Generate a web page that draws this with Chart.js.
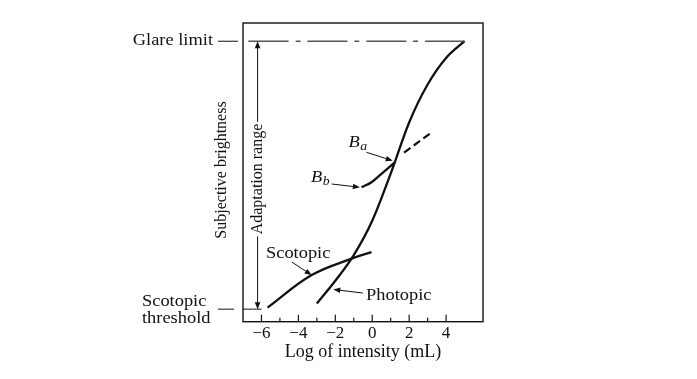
<!DOCTYPE html>
<html><head><meta charset="utf-8">
<script src="https://cdn.jsdelivr.net/npm/chart.js@4.4.1/dist/chart.umd.min.js"></script>
<style>html,body{margin:0;padding:0;background:#fff;}</style>
</head><body>
<canvas id="c" width="697" height="379"></canvas>
<script>
// ---- data (x = log of intensity, y = subjective brightness, arbitrary units 0..100) ----
const xTickValues = [-6, -4, -2, 0, 2, 4];
const xTickLabels = ['−6', '−4', '−2', '0', '2', '4'];
const minorTickValues = [-5, -3, -1, 1, 3];

const photopicX = [-3.0, -2.0, -1.0, 0.0, 1.0, 2.0, 3.0, 4.0, 5.0];
const photopicY = [6.1, 13.7, 22.3, 33.8, 49.6, 66.7, 79.4, 88.3, 93.9];

const scotopicX = [-5.67, -3.28, -1.12, -0.04];
const scotopicY = [4.7, 15.6, 21.1, 23.3];

const adaptedX = [-0.58, -0.04, 0.50, 1.22];
const adaptedY = [45.0, 46.7, 49.5, 53.3];

const extensionX = [1.72, 3.2];
const extensionY = [56.6, 63.3];

const glareLevel = 93.9;
const glareX = [-6.71, 5.0];
const thresholdLevel = 4.2;
const thresholdX = [-7, -6.0];
const adaptationX = -6.21;

// annotation arrows: [tailX, tailY, headX, headY]
const arrowBa = [-0.31, 56.7, 1.11, 53.9];
const arrowBb = [-2.2, 46.1, -0.67, 45.0];
const arrowScotopic = [-4.36, 20.0, -3.28, 15.6];
const arrowPhotopic = [-0.51, 9.6, -2.11, 10.8];

// annotation labels: [text, x, y]
const labelScotopic = ['Scotopic', -4.01, 22.9];
const labelPhotopic = ['Photopic', 1.44, 8.6];
const labelBa = ['B', 'a', -0.80, 59.9];
const labelBb = ['B', 'b', -2.83, 48.2];

const pts = (xs, ys) => xs.map((x, i) => ({x: x, y: ys[i]}));

const SERIF = '"Liberation Serif", "Times New Roman", serif';
const INK = '#111';

function arrow(ctx, x1, y1, x2, y2) {
  const a = Math.atan2(y2 - y1, x2 - x1);
  const L = 7, W = 2.8;
  ctx.beginPath(); ctx.moveTo(x1, y1);
  ctx.lineTo(x2 - Math.cos(a) * L * 0.8, y2 - Math.sin(a) * L * 0.8); ctx.stroke();
  ctx.beginPath();
  ctx.moveTo(x2, y2);
  ctx.lineTo(x2 - Math.cos(a) * L - Math.sin(a) * W, y2 - Math.sin(a) * L + Math.cos(a) * W);
  ctx.lineTo(x2 - Math.cos(a) * L + Math.sin(a) * W, y2 - Math.sin(a) * L - Math.cos(a) * W);
  ctx.closePath(); ctx.fill();
}
function sText(ctx, text, x, y, align, size, style) {
  ctx.save();
  ctx.translate(x, y); ctx.scale(1.15, 1);
  ctx.font = (style || '') + ' ' + size + 'px ' + SERIF;
  ctx.textAlign = align; ctx.textBaseline = 'middle';
  ctx.fillText(text, 0, 0);
  ctx.restore();
}
function subLabel(ctx, main, sub, cx, cy) {
  ctx.save();
  ctx.font = 'italic 16px ' + SERIF;
  const w1 = ctx.measureText(main).width * 1.15;
  ctx.font = 'italic 12px ' + SERIF;
  const w2 = ctx.measureText(sub).width * 1.15;
  const x0 = cx - (w1 + w2) / 2;
  ctx.restore();
  sText(ctx, main, x0, cy, 'left', 16, 'italic');
  sText(ctx, sub, x0 + w1 + 0.5, cy + 4, 'left', 12, 'italic');
}

const overlay = {
  id: 'overlay',
  afterDraw(chart) {
    const ctx = chart.ctx, a = chart.chartArea;
    const X = v => chart.scales.x.getPixelForValue(v);
    const Y = v => chart.scales.y.getPixelForValue(v);
    ctx.save();
    ctx.strokeStyle = INK; ctx.fillStyle = INK;
    // frame
    ctx.lineWidth = 1.4;
    ctx.strokeRect(a.left, a.top, a.right - a.left, a.bottom - a.top);
    // inward tick marks
    ctx.lineWidth = 1.2;
    xTickValues.forEach(v => { ctx.beginPath(); ctx.moveTo(X(v), a.bottom); ctx.lineTo(X(v), a.bottom - 7); ctx.stroke(); });
    minorTickValues.forEach(v => { ctx.beginPath(); ctx.moveTo(X(v), a.bottom); ctx.lineTo(X(v), a.bottom - 4); ctx.stroke(); });
    // annotation arrows
    ctx.lineWidth = 1;
    [arrowBa, arrowBb, arrowScotopic, arrowPhotopic].forEach(r => arrow(ctx, X(r[0]), Y(r[1]), X(r[2]), Y(r[3])));
    // adaptation range double arrow
    const ax = X(adaptationX), gy = Y(glareLevel), ty = Y(thresholdLevel);
    arrow(ctx, ax, (gy + ty) / 2, ax, gy);
    arrow(ctx, ax, (gy + ty) / 2, ax, ty);
    // labels inside
    sText(ctx, labelScotopic[0], X(labelScotopic[1]), Y(labelScotopic[2]), 'center', 16);
    sText(ctx, labelPhotopic[0], X(labelPhotopic[1]), Y(labelPhotopic[2]), 'center', 16);
    subLabel(ctx, labelBa[0], labelBa[1], X(labelBa[2]), Y(labelBa[3]));
    subLabel(ctx, labelBb[0], labelBb[1], X(labelBb[2]), Y(labelBb[3]));
    // rotated adaptation range text with white background
    ctx.save();
    ctx.translate(ax, 179); ctx.rotate(-Math.PI / 2);
    ctx.font = '16px ' + SERIF;
    const tw = ctx.measureText('Adaptation range').width;
    ctx.fillStyle = '#fff'; ctx.fillRect(-tw / 2 - 2, -8, tw + 4, 16);
    ctx.fillStyle = INK; ctx.textAlign = 'center'; ctx.textBaseline = 'middle';
    ctx.fillText('Adaptation range', 0, 0);
    ctx.restore();
    // y axis title
    ctx.save();
    ctx.translate(a.left - 21, 170); ctx.rotate(-Math.PI / 2);
    ctx.font = '16px ' + SERIF; ctx.textAlign = 'center'; ctx.textBaseline = 'middle';
    ctx.fillText('Subjective brightness', 0, 0);
    ctx.restore();
    // outside level labels
    ctx.lineWidth = 1;
    ctx.beginPath(); ctx.moveTo(a.left - 25, gy); ctx.lineTo(a.left - 5, gy); ctx.stroke();
    ctx.beginPath(); ctx.moveTo(a.left - 25, ty); ctx.lineTo(a.left - 9, ty); ctx.stroke();
    sText(ctx, 'Glare limit', a.left - 30, gy, 'right', 16);
    sText(ctx, 'Scotopic', a.left - 101, ty - 7, 'left', 16);
    sText(ctx, 'threshold', a.left - 101, ty + 9.5, 'left', 16);
    ctx.restore();
  }
};

const lineDs = (data, width, color, dash, mono) => Object.assign({
  data: data, showLine: true, pointRadius: 0, borderColor: color, borderWidth: width,
  borderDash: dash || [], fill: false
}, mono ? { cubicInterpolationMode: 'monotone' } : { tension: 0.4 });

new Chart(document.getElementById('c'), {
  type: 'scatter',
  data: {
    datasets: [
      lineDs(pts(glareX, glareX.map(() => glareLevel)), 1.4, '#555', [40, 7, 5, 7]),
      lineDs(pts(thresholdX, thresholdX.map(() => thresholdLevel)), 1, INK),
      lineDs(pts(photopicX, photopicY), 2.3, INK, null, true),
      lineDs(pts(scotopicX, scotopicY), 2.3, INK),
      lineDs(pts(adaptedX, adaptedY), 2.3, INK),
      lineDs(pts(extensionX, extensionY), 2.2, INK, [8, 4])
    ]
  },
  options: {
    responsive: false, animation: false, devicePixelRatio: 1,
    layout: { padding: { left: 243, right: 214, top: 23, bottom: 0 } },
    plugins: { legend: { display: false }, tooltip: { enabled: false } },
    scales: {
      x: {
        type: 'linear', min: -7, max: 6,
        grid: { display: false, drawTicks: false },
        border: { display: false },
        ticks: {
          stepSize: 1, autoSkip: false, maxRotation: 0, padding: 2, color: INK,
          font: { family: SERIF, size: 17 },
          callback: v => { const i = xTickValues.indexOf(v); return i >= 0 ? xTickLabels[i] : ''; }
        },
        title: { display: true, text: 'Log of intensity (mL)', color: INK,
                 font: { family: SERIF, size: 18 }, padding: { top: 0, bottom: 16 } },
        afterFit: s => { s.height = 57.3; }
      },
      y: { type: 'linear', min: 0, max: 100, display: false }
    }
  },
  plugins: [overlay]
});
</script>
</body></html>
